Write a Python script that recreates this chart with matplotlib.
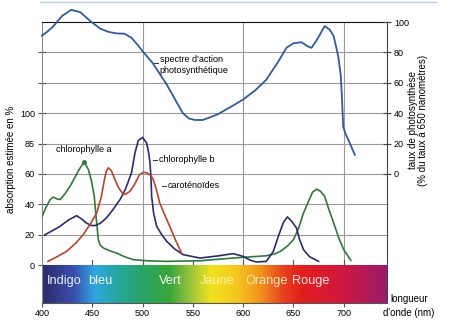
import numpy as np
import matplotlib
matplotlib.use('Agg')
import matplotlib.pyplot as plt
from matplotlib.colors import LinearSegmentedColormap
from matplotlib.lines import Line2D

plt.rcParams['font.family'] = ['Liberation Sans', 'DejaVu Sans']

# spectre d'action (right axis, % of rate at 650 nm)
action_x = [400, 405, 411, 420, 429, 438, 448, 458, 466, 474, 482, 489, 495, 500, 510, 524, 540, 546,
            552, 560, 574, 590, 600, 612, 623, 635, 643, 650, 658, 664, 668, 674, 681, 686, 690, 694.5,
            697, 698, 699.5, 702, 704.5, 711]
action_y = [91, 93.5, 97, 104, 108, 106.5, 100.6, 95.6, 93.5, 92.5, 92.3, 89.6, 85, 80.8, 73, 58.8, 40, 36.5,
            35.5, 35.5, 39, 45, 49, 55, 62, 74, 83, 86, 86.7, 84, 83, 89, 97.3, 95, 90.7, 77.5,
            65, 53, 31, 26, 22.5, 12.6]

# absorption (left axis, %)
chla_x = [400, 404, 408, 411, 415, 418, 423, 428, 433, 437, 442, 446, 449, 452, 454, 456, 458, 461, 467,
          474, 482, 491, 505, 524, 557, 590, 610, 623, 632, 637, 644, 650, 655, 660, 665, 669, 673, 677,
          681, 685, 690, 695, 700, 707]
chla_y = [32, 38, 43, 44.7, 43.5, 43.1, 47, 52, 58, 63, 68, 63, 56, 45, 30, 16.7, 13, 11.2, 9.5,
          7.9, 5.5, 3.5, 2.8, 2.4, 2.8, 4.6, 5.5, 6.1, 7.5, 9, 12.5, 16.7, 24, 34.3, 42, 48, 50, 48.5,
          45.3, 37, 27.7, 18, 10.1, 3.1]

chlb_x = [403, 410, 418, 426, 434.5, 440, 444, 449, 453, 458, 464, 470, 477.5, 483, 489, 492.4, 495.7,
          500, 504, 506, 507.4, 508.5, 509, 511, 514, 519, 524, 532, 540.5, 557, 575, 590, 600, 607,
          613, 623, 630, 635, 640, 644, 648, 653, 656, 660, 666, 675]
chlb_y = [20, 22.5, 25.5, 29.5, 32.5, 30, 27.7, 26, 26, 27.5, 31, 36, 43, 50, 60.7, 73.7, 82,
          84, 80.3, 74, 67.3, 55, 45.3, 34, 25.5, 20, 15.6, 10.5, 6.8, 4.6, 6, 7.5, 5.7, 3.2,
          2, 2.4, 9, 19, 28, 31.7, 29, 24.4, 17, 10.1, 5.5, 2.4]

car_x = [406, 415, 424.5, 433, 441, 448, 454.4, 459, 462, 464, 466, 469, 472, 476, 481, 484, 487.5, 492,
         497, 501, 504, 508, 510.6, 514, 517, 522, 527, 533, 539]
car_y = [2.4, 5.5, 9, 14, 20, 27, 34.3, 45, 56, 62, 64, 62, 57, 51, 46.4, 47, 48.6, 53,
         59.6, 61, 60.7, 59, 56.3, 49, 41, 33, 25.5, 16, 7.5]

colour_names = ['Indigo', 'bleu', 'Vert', 'Jaune', 'Orange', 'Rouge']
colour_pos = [404.5, 445.5, 516, 557, 602, 648.5]
colour_txt = ['#ececf8', '#f2f6ff', '#f4fbf2', '#fbf3a8', '#fde6b4', '#fde4e4']

xticks = [400, 450, 500, 550, 600, 650, 700]
left_ticks = [0, 20, 40, 60, 80, 100, 120, 140]
left_labels = ['0', '20', '40', '60', '85', '100', '', '']
right_ticks = [0, 20, 40, 60, 80, 100]

spectrum = LinearSegmentedColormap.from_list('spec', [
    (0.00, '#2c2a6c'), (0.09, '#3a4fae'), (0.15, '#2fa6df'), (0.22, '#26a79a'),
    (0.30, '#2ba45e'), (0.37, '#3aa63a'), (0.43, '#9cc63c'), (0.49, '#f0e21e'),
    (0.56, '#f6c81e'), (0.63, '#f2951f'), (0.70, '#e6401d'), (0.75, '#e21f1e'),
    (0.86, '#d2183c'), (1.00, '#9a1b6c')])

fig = plt.figure(figsize=(4.54, 3.26), dpi=100)
ax = fig.add_axes([42 / 454, 23 / 326, 345 / 454, 281 / 326])
ax.set_xlim(400, 743)
ax.set_ylim(-25, 160)

# grid
for v in left_ticks:
    ax.axhline(v, color='#9a9a9a', lw=0.8, zorder=1)
for v in [500, 600, 700]:
    ax.axvline(v, color='#9a9a9a', lw=0.8, zorder=1)
for v in xticks[1:]:
    ax.plot([v, v], [0, 3], color='#555555', lw=0.8, zorder=1)

# spectrum bar
grad = np.linspace(0, 1, 400).reshape(1, -1)
ax.imshow(grad, cmap=spectrum, aspect='auto', extent=[400, 743, -25, 0], zorder=2)
for name, xp, c in zip(colour_names, colour_pos, colour_txt):
    ax.text(xp, -10.5, name, color=c, fontsize=9.2, va='center', ha='left', zorder=3)

ax.plot(chla_x, chla_y, color='#2f7a3a', lw=1.2, zorder=4)
ax.plot(chlb_x, chlb_y, color='#2b2c6c', lw=1.2, zorder=4)
ax.plot(car_x, car_y, color='#b9442a', lw=1.2, zorder=4)
ax.plot([442], [68], 'o', color='#2f7a3a', ms=2.5, zorder=4)

ax2 = ax.twinx()
ax2.set_ylim(-85, 100)
ax2.plot(action_x, action_y, color='#2f5b9f', lw=1.3, clip_on=False, zorder=4)

# labels on curves
ax.text(442, 76, "chlorophylle a", fontsize=6.5, ha='center', va='center')
ax.plot([510.5, 514.5], [69, 69], color='#333333', lw=0.7)
ax.text(516, 69.5, "chlorophylle b", fontsize=6.5, va='center')
ax.plot([519.5, 523.5], [52, 52], color='#333333', lw=0.7)
ax.text(525, 52.5, "caroténoïdes", fontsize=6.5, va='center')
ax2.plot([511, 515], [73, 73], color='#333333', lw=0.7)
ax2.text(517, 78, "spectre d'action\nphotosynthétique", fontsize=6.5, va='top', linespacing=1.2)

# axes styling
ax.spines['left'].set_color('#8a8a8a')
ax.spines['top'].set_color('#111111')
ax.spines['bottom'].set_color('#555555')
ax.spines['right'].set_visible(False)
for s in ['left', 'bottom']:
    ax2.spines[s].set_visible(False)
ax2.spines['top'].set_visible(False)
ax2.spines['right'].set_color('#444444')

ax.set_xticks(xticks)
ax.set_xticklabels([str(v) for v in xticks], fontsize=6.5)
ax.tick_params(axis='x', direction='out', length=3, pad=1.5, color='#555555')
ax.set_yticks(left_ticks)
ax.set_yticklabels(left_labels, fontsize=6.5)
ax.tick_params(axis='y', direction='inout', length=6, pad=2, color='#555555')
ax2.set_yticks(right_ticks)
ax2.set_yticklabels([str(v) for v in right_ticks], fontsize=6.5)
ax2.tick_params(axis='y', direction='inout', length=6, pad=2, color='#444444')

ax.set_ylabel('absorption estimée en %', fontsize=7)
ax.yaxis.set_label_coords(-0.075, 0.51)
ax2.set_ylabel('taux de photosynthèse\n(% du taux à 650 nanomètres)', fontsize=7, linespacing=1.0)
ax2.yaxis.set_label_coords(1.06, 0.65)
fig.text(409 / 454, 1 - 306 / 326, "longueur\nd'onde (nm)", fontsize=7, ha='center', va='center',
         linespacing=1.5)

fig.add_artist(Line2D([40 / 454, 436 / 454], [0.993, 0.993], color='#bcd0e2', lw=1))

fig.savefig('out.png', dpi=100)
